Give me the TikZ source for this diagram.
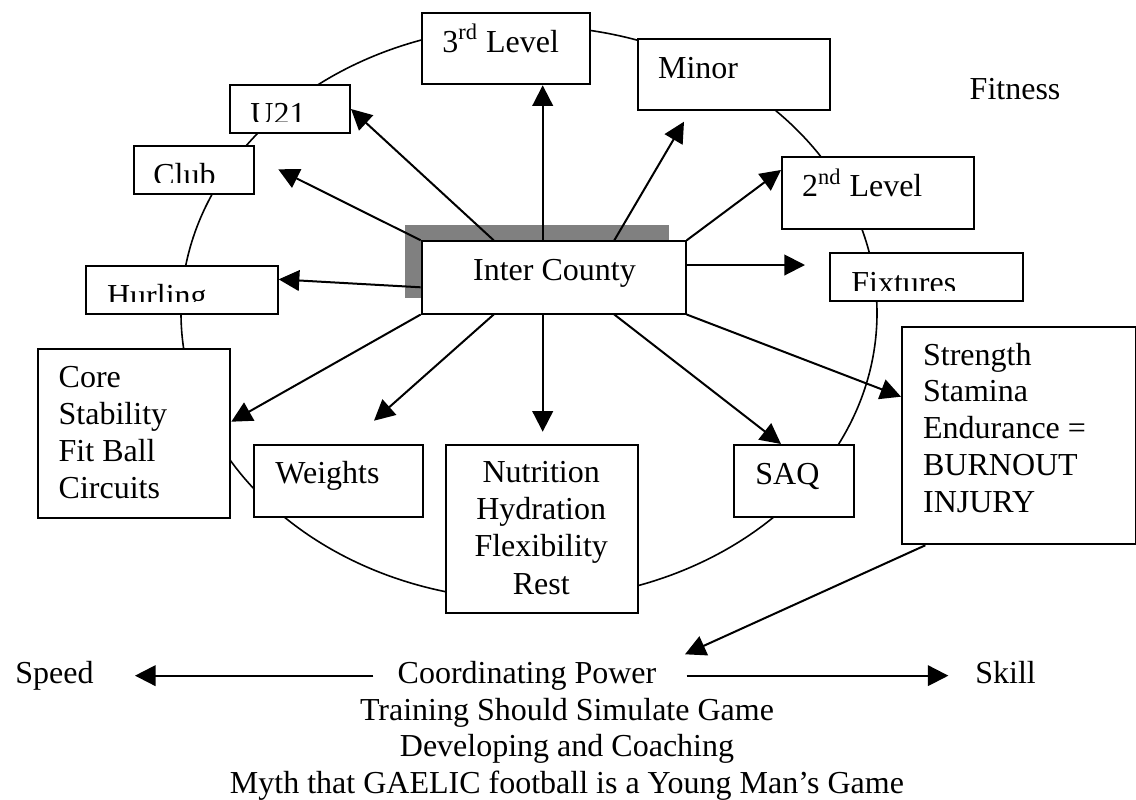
\documentclass[tikz,border=0pt]{standalone}
\usepackage{fontspec}
\setmainfont{Liberation Serif}
\usetikzlibrary{arrows.meta,shadows}

\begin{document}
\begin{tikzpicture}[x=0.5pt,y=-0.5pt,
    every node/.style={font=\fontsize{16pt}{18.5pt}\selectfont},
    box/.style={draw, fill=white, line width=1pt, inner sep=0pt, anchor=north west},
    txt/.style={inner sep=0pt, anchor=base west},
    ctxt/.style={inner sep=0pt, anchor=base},
    arr/.style={-{Triangle[length=10.3pt,width=10.3pt]}, line width=1pt},
    ring/.style={line width=0.8pt}]

      \useasboundingbox (0,0) rectangle (1136,799);

      \draw[ring] (529,313) ellipse [x radius=348, y radius=287];

      \foreach \nm/\x/\y/\w/\h in {l3/420.7/12/84.3/35.65, u21/228.7/84/60.15/24,
          club/132.7/145/60.3/23.85, hurl/85/265/95.85/23.85, minor/636.7/37.7/96.3/35.8,
          l2/781/155.7/96.15/36.3, fix/828.7/252.3/96.5/23.85, core/36.7/347.7/96.3/84.5,
          wts/253.3/444/84.2/36, nut/445/444/96.15/84.15, saq/733.3/444/60/36,
          str/901/325.7/117/108.8} {
        \node[box, minimum width=\w pt, minimum height=\h pt] (\nm) at (\x,\y) {};
      }

      \node[box, minimum width=132pt, minimum height=36.1pt,
        drop shadow={shadow xshift=-8.25pt, shadow yshift=8pt, fill=gray, opacity=1}]
        (ic) at (420.7,240.3) {};

      \node[txt] (l3-t) at (442,52) {3\textsuperscript{rd} Level};
      \node[txt] (minor-t) at (657.7,78.3) {Minor};
      \node[txt] (fitness) at (969.3,99.3) {Fitness};
      \node[txt] (l2-t) at (801.7,196.7) {2\textsuperscript{nd} Level};
      \node[txt] (ic-t) at (472.7,280) {Inter County};
      \node[txt] (wts-t) at (275,483.3) {Weights};
      \node[txt] (saq-t) at (755,484) {SAQ};

      \foreach \nm/\x/\y/\c/\t in {u21/250/124/121.7/U21, club/153/185/182.7/Club,
          hurl/106.7/306.5/301.7/Hurling, fix/851/293.4/290/Fixtures} {
        \begin{scope}
          \clip (\x-5,\y-40) rectangle (\x+150,\c);
          \node[txt] (\nm-t) at (\x,\y) {\t};
        \end{scope}
      }

      \foreach \t [count=\i from 0] in {Core,Stability,Fit Ball,Circuits}
        \node[txt] (core-\i) at (58.3,387.3+37*\i) {\t};
      \foreach \t [count=\i from 0] in {Nutrition,Hydration,Flexibility,Rest}
        \node[ctxt] (nut-\i) at (541.2,482.7+37.1*\i) {\t};
      \foreach \t [count=\i from 0] in {Strength,Stamina,Endurance =,BURNOUT,INJURY}
        \node[txt] (str-\i) at (922.7,365+36.9*\i) {\t};

      \node[txt] (speed) at (15,683.3) {Speed};
      \node[txt] (cp) at (397.3,683.3) {Coordinating Power};
      \node[txt] (skill) at (975,683.3) {Skill};
      \foreach \t [count=\i from 0] in {Training Should Simulate Game,
          Developing and Coaching, Myth that GAELIC football is a Young Man’s Game}
        \node[ctxt] (foot-\i) at (567,720+36.65*\i) {\t};

      \coordinate (s1) at ([xshift=-5.5pt]ic.north);
      \coordinate (s10) at ([xshift=-5.5pt]ic.south);
      \coordinate (tclub) at (278.3,169.3);
      \coordinate (tminor) at (684,121.7);
      \coordinate (tfix) at (805,265);
      \coordinate (twts) at (374,420.7);
      \coordinate (tnut) at (541.7,431.7);
      \coordinate (tcp) at (685,654.3);

      \draw[arr] (s1) -- (s1 |- l3.south);
      \draw[arr] ([xshift=-30pt]ic.north) -- (u21.east);
      \draw[arr] (ic.north west) -- (tclub);
      \draw[arr] ([yshift=-23.5pt]ic.north west) -- ([yshift=5.25pt]hurl.east);
      \draw[arr] ([xshift=30.3pt]ic.north) -- (tminor);
      \draw[arr] (ic.north east) -- ([yshift=-7.15pt]l2.north west);
      \draw[arr] ([yshift=-12.35pt]ic.north east) -- (tfix);
      \draw[arr] (ic.south west) -- ([yshift=5.75pt]core.east);
      \draw[arr] ([xshift=-30pt]ic.south) -- (twts);
      \draw[arr] (s10) -- (s10 |- tnut);
      \draw[arr] ([xshift=30.3pt]ic.south) -- ([xshift=-6.65pt]saq.north);
      \draw[arr] (ic.south east) -- ([yshift=-35.5pt]str.north west);
      \draw[arr] ([xshift=12.15pt]str.south west) -- (tcp);

      \draw[arr, shorten <=12pt, shorten >=20.5pt] (cp.west) -- (cp.west -| speed.east);
      \draw[arr, shorten <=15pt, shorten >=13.3pt] (cp.east) -- (cp.east -| skill.west);

    \end{tikzpicture}
\end{document}
